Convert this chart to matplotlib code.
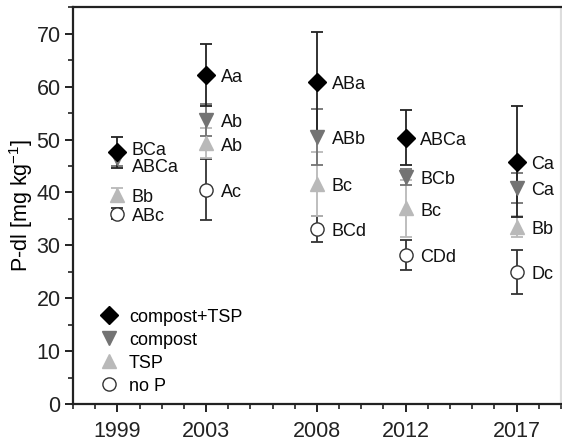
import matplotlib
matplotlib.use("Agg")
import matplotlib.pyplot as plt
from matplotlib.ticker import MultipleLocator, FixedLocator

plt.rcParams['font.family'] = ['Liberation Sans', 'DejaVu Sans']

years = [1999, 2003, 2008, 2012, 2017]
treatments = ["compost+TSP", "compost", "TSP", "no P"]

compost_tsp = [47.6, 62.2, 60.9, 50.3, 45.8]
compost_tsp_err = [2.9, 5.9, 9.5, 5.2, 10.5]
compost = [46.5, 53.7, 50.5, 42.9, 40.8]
compost_err = [1.5, 3.0, 5.3, 1.5, 2.8]
tsp = [39.5, 49.3, 41.6, 37.0, 33.5]
tsp_err = [1.3, 2.8, 6.1, 5.4, 2.0]
nop = [36.0, 40.5, 33.1, 28.2, 25.0]
nop_err = [1.0, 5.8, 2.5, 2.8, 4.2]

lab_compost_tsp = ["BCa", "Aa", "ABa", "ABCa", "Ca"]
lab_compost = ["ABCa", "Ab", "ABb", "BCb", "Ca"]
lab_tsp = ["Bb", "Ab", "Bc", "Bc", "Bb"]
lab_nop = ["ABc", "Ac", "BCd", "CDd", "Dc"]

# small vertical nudges (points) for the crowded 1999 labels
nudge = {("compost+TSP", 1999): 3, ("compost", 1999): -5}

fig = plt.figure(figsize=(5.62, 4.43), dpi=100)
ax = fig.add_axes([0.130, 0.088, 0.868, 0.8955])

series = [
    (nop, nop_err, lab_nop, 'o', 'white', '#333333', '#333333', treatments[3], 9.5),
    (tsp, tsp_err, lab_tsp, '^', '#b9b9b9', '#b9b9b9', '#b9b9b9', treatments[2], 10),
    (compost, compost_err, lab_compost, 'v', '#737373', '#737373', '#737373', treatments[1], 10),
    (compost_tsp, compost_tsp_err, lab_compost_tsp, 'D', 'black', 'black', '#222222', treatments[0], 9.5),
]
handles = {}
for vals, errs, labs, mk, fc, ec, lc, name, ms in series:
    h = ax.errorbar(years, vals, yerr=errs, fmt=mk, color=lc, ecolor=lc,
                    markerfacecolor=fc, markeredgecolor=ec, markersize=ms,
                    elinewidth=1.3, capsize=4.5, capthick=1.3, label=name)
    handles[name] = h
    for x, v, t in zip(years, vals, labs):
        dy = -2 + nudge.get((name, x), 0)
        ax.annotate(t, (x, v), xytext=(10.5, dy), textcoords='offset points',
                    ha='left', va='center', fontsize=13, color='#111111')

leg = ax.legend([handles[t][0] for t in treatments], treatments,
                loc='lower left', bbox_to_anchor=(0.018, -0.008), frameon=False,
                fontsize=13, handletextpad=0.3, labelspacing=0.33,
                handlelength=1.6, borderaxespad=0.3)

ax.set_xlim(1997, 2019)
ax.set_ylim(0, 75)
ax.xaxis.set_major_locator(FixedLocator(years))
ax.xaxis.set_minor_locator(MultipleLocator(1))
ax.yaxis.set_major_locator(MultipleLocator(10))
ax.yaxis.set_minor_locator(MultipleLocator(5))
ax.tick_params(which='major', direction='out', length=6, width=1.4, labelsize=15.5, colors='#222222')
ax.tick_params(which='minor', direction='out', length=3.5, width=1.2, colors='#222222')
ax.tick_params(axis='x', pad=6)
ax.tick_params(axis='y', pad=3)
for s in ax.spines.values():
    s.set_linewidth(1.6)
    s.set_color('#222222')
ax.spines['right'].set_color('#dddddd')
ax.set_ylabel("P-dl [mg kg$^{\\mathregular{-1}}$]", fontsize=15.5)
ax.yaxis.set_label_coords(-0.107, 0.5)
ax.yaxis.label.set_va('center')

fig.savefig("out.png", dpi=100)
